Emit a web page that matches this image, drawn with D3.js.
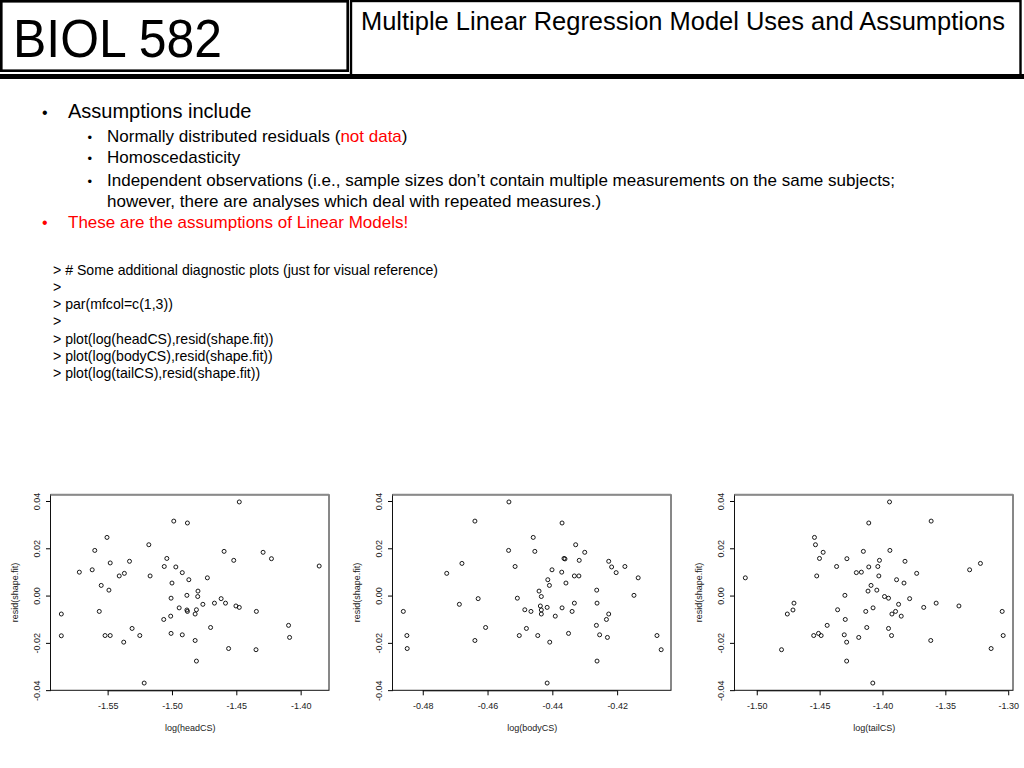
<!DOCTYPE html>
<html>
<head>
<meta charset="utf-8">
<script src="https://cdn.jsdelivr.net/npm/d3@7"></script>
<style>
  html, body { margin: 0; padding: 0; background: #fff; }
  svg { display: block; }
  text { font-family: "Liberation Sans", Arial, Helvetica, sans-serif; }
</style>
</head>
<body>
<svg id="slide" width="1024" height="768"></svg>
<script>
// ---- slide text ----
const courseTitle = "BIOL 582";
const slideTitle = "Multiple Linear Regression Model Uses and Assumptions";
const bulletLines = [
  { level: 0, color: "#000", parts: [["Assumptions include", "#000"]] },
  { level: 1, parts: [["Normally distributed residuals (", "#000"], ["not data", "#f00"], [")", "#000"]] },
  { level: 1, parts: [["Homoscedasticity", "#000"]] },
  { level: 1, parts: [["Independent observations (i.e., sample sizes don\u2019t contain multiple measurements on the same subjects;", "#000"]] },
  { level: 2, parts: [["however, there are analyses which deal with repeated measures.)", "#000"]] },
  { level: 0, color: "#f00", parts: [["These are the assumptions of Linear Models!", "#f00"]] }
];
const codeLines = [
  "> # Some additional diagnostic plots (just for visual reference)",
  ">",
  "> par(mfcol=c(1,3))",
  ">",
  "> plot(log(headCS),resid(shape.fit))",
  "> plot(log(bodyCS),resid(shape.fit))",
  "> plot(log(tailCS),resid(shape.fit))"
];

// ---- chart data ----
const yTicks = [-0.04, -0.02, 0, 0.02, 0.04];
const yLabel = "resid(shape.fit)";

const headLabel = "log(headCS)";
const headTicks = [-1.55, -1.50, -1.45, -1.40];
const headX = [-1.586,-1.586,-1.572,-1.562,-1.560,-1.5505,-1.5565,-1.555,-1.549,-1.548,-1.552,-1.548,-1.541,-1.537,-1.533,-1.5375,-1.531,-1.525,-1.518,-1.517,-1.5216,-1.5064,-1.506,-1.504,-1.4986,-1.497,-1.500,-1.5007,-1.501,-1.5007,-1.4944,-1.492,-1.492,-1.488,-1.4884,-1.4884,-1.488,-1.4869,-1.482,-1.482,-1.481,-1.481,-1.4798,-1.480,-1.476,-1.4725,-1.470,-1.467,-1.4618,-1.4595,-1.4584,-1.456,-1.452,-1.4503,-1.4477,-1.4477,-1.4344,-1.4347,-1.4292,-1.4227,-1.4094,-1.4086,-1.3856];
const headResid = [-0.0078,-0.0170,0.0099,0.0109,0.0191,0.0246,-0.0067,0.0043,0.0023,0.0138,-0.0169,-0.0169,0.0083,0.0094,0.0145,-0.0197,-0.0139,-0.0169,0.0215,0.0083,-0.0370,-0.0101,0.0123,0.0157,0.0315,0.0121,0.0053,-0.0011,-0.0087,-0.0160,-0.0052,0.0097,-0.0166,0.0307,0.0001,-0.0061,-0.0067,0.0067,-0.0078,-0.0190,-0.0060,-0.0277,0.0019,-0.0004,-0.0037,0.0075,-0.0135,-0.0032,-0.0013,0.0187,-0.0032,-0.0224,0.0149,-0.0044,-0.0050,0.0396,-0.0067,-0.0229,0.0183,0.0156,-0.0126,-0.0177,0.0125];

const bodyLabel = "log(bodyCS)";
const bodyTicks = [-0.48, -0.46, -0.44, -0.42];
const bodyX = [-0.4860,-0.4849,-0.4848,-0.4726,-0.4687,-0.4679,-0.4639,-0.4639,-0.4629,-0.4606,-0.4534,-0.4535,-0.4515,-0.4508,-0.4502,-0.4485,-0.4480,-0.4466,-0.4459,-0.4454,-0.4445,-0.4441,-0.4437,-0.4434,-0.4434,-0.4434,-0.4416,-0.4414,-0.4409,-0.4408,-0.4416,-0.4401,-0.4391,-0.4371,-0.4370,-0.4370,-0.4364,-0.4361,-0.4358,-0.4350,-0.4339,-0.4332,-0.4332,-0.4328,-0.4318,-0.4317,-0.4300,-0.4263,-0.4262,-0.4264,-0.4262,-0.4254,-0.4233,-0.4230,-0.4226,-0.4226,-0.4217,-0.4203,-0.4176,-0.4148,-0.4135,-0.4077,-0.4064];
const bodyResid = [-0.0067,-0.0169,-0.0224,0.0094,-0.0037,0.0136,0.0315,-0.0190,-0.0013,-0.0135,0.0396,0.0191,0.0123,-0.0011,-0.0169,-0.0060,-0.0139,-0.0067,0.0246,0.0187,-0.0169,0.0019,-0.0044,-0.0004,-0.0061,-0.0078,-0.0050,0.0067,0.0043,-0.0197,-0.0370,0.0109,-0.0087,0.0099,0.0307,-0.0052,0.0157,0.0155,0.0053,-0.0160,-0.0067,0.0083,-0.0032,0.0215,0.0083,0.0149,0.0183,0.0023,-0.0032,-0.0126,-0.0277,-0.0166,-0.0101,-0.0177,-0.0078,0.0145,0.0121,0.0097,0.0123,0.0001,0.0075,-0.0169,-0.0229];

const tailLabel = "log(tailCS)";
const tailTicks = [-1.50, -1.45, -1.40, -1.35, -1.30];
const tailX = [-1.5091,-1.4803,-1.4757,-1.4712,-1.4704,-1.4547,-1.4541,-1.4533,-1.4523,-1.4509,-1.4501,-1.4488,-1.4472,-1.4440,-1.4365,-1.4357,-1.4304,-1.4299,-1.4296,-1.4285,-1.4283,-1.4285,-1.4208,-1.4189,-1.4168,-1.4152,-1.4133,-1.4125,-1.4115,-1.4109,-1.4109,-1.4091,-1.4077,-1.4075,-1.4045,-1.4037,-1.4029,-1.4024,-1.3984,-1.3952,-1.3952,-1.3944,-1.3941,-1.3928,-1.3925,-1.3896,-1.3888,-1.3872,-1.3851,-1.3829,-1.3821,-1.3784,-1.3728,-1.3672,-1.3616,-1.3613,-1.3573,-1.3392,-1.3307,-1.3221,-1.3136,-1.3048,-1.3040];
const tailResid = [0.0075,-0.0229,-0.0078,-0.0061,-0.0032,-0.0169,0.0246,0.0215,0.0083,-0.0160,0.0157,-0.0169,0.0183,-0.0126,0.0123,-0.0060,-0.0166,0.0001,-0.0101,-0.0197,0.0156,-0.0277,0.0097,-0.0177,0.0099,0.0187,-0.0067,-0.0135,0.0019,0.0121,0.0307,0.0043,-0.0370,-0.0052,0.0023,0.0123,0.0083,0.0149,-0.0004,-0.0011,-0.0139,0.0396,0.0191,-0.0169,-0.0078,-0.0067,0.0067,-0.0037,-0.0087,0.0053,0.0145,-0.0013,0.0094,-0.0050,-0.0190,0.0315,-0.0032,-0.0044,0.0109,0.0136,-0.0224,-0.0067,-0.0169];

// ---- drawing ----
const svg = d3.select("#slide");
svg.append("rect").attr("width", 1024).attr("height", 768).attr("fill", "#fff");

// header boxes
svg.append("rect").attr("x", 1.3).attr("y", 1.3).attr("width", 346.4).attr("height", 69.4)
  .attr("fill", "#fff").attr("stroke", "#000").attr("stroke-width", 2.6);
svg.append("rect").attr("x", 351).attr("y", 1).attr("width", 669.5).attr("height", 75)
  .attr("fill", "#fff").attr("stroke", "#000").attr("stroke-width", 2.4);
svg.append("rect").attr("x", 0).attr("y", 74).attr("width", 1024).attr("height", 5).attr("fill", "#000");

svg.append("text").attr("x", 13).attr("y", 56.5).attr("font-size", 54)
  .attr("textLength", 209).attr("lengthAdjust", "spacingAndGlyphs")
  .attr("fill", "#000").text(courseTitle);
svg.append("text").attr("x", 361).attr("y", 29.5).attr("font-size", 25.4)
  .attr("textLength", 644).attr("lengthAdjust", "spacingAndGlyphs")
  .attr("fill", "#000").text(slideTitle);

// bullets
const bulletY = [118, 141.7, 163.3, 186, 206.7, 228];
bulletLines.forEach((b, i) => {
  const y = bulletY[i];
  if (b.level === 0) {
    svg.append("text").attr("x", 42).attr("y", y).attr("font-size", 16).attr("fill", b.color).text("\u2022");
  } else if (b.level === 1) {
    svg.append("text").attr("x", 87.5).attr("y", y).attr("font-size", 13).attr("fill", "#000").text("\u2022");
  }
  const tx = b.level === 0 ? 68 : 107;
  const fs = (b.level === 0 && i === 0) ? 20 : 17;
  const t = svg.append("text").attr("x", tx).attr("y", y).attr("font-size", fs);
  b.parts.forEach(p => t.append("tspan").attr("fill", p[1]).text(p[0]));
});

// code lines
codeLines.forEach((c, i) => {
  svg.append("text").attr("x", 53).attr("y", 274.8 + i * 17.2).attr("font-size", 14.1)
    .attr("fill", "#000").text(c);
});

// scatter panels (R-style: axis range extended by 4%)
function rRange(vals) {
  const [a, b] = d3.extent(vals);
  const pad = (b - a) * 0.04;
  return [a - pad, b + pad];
}
const allResid = headResid.concat(bodyResid, tailResid);
const yDom = rRange(allResid);
const boxTop = 494.7, boxBottom = 690.3, boxW = 278.5;
const yScale = d3.scaleLinear().domain(yDom).range([boxBottom, boxTop]);

const panels = [
  { left: 51, xs: headX, ys: headResid, ticks: headTicks, label: headLabel },
  { left: 393, xs: bodyX, ys: bodyResid, ticks: bodyTicks, label: bodyLabel },
  { left: 735, xs: tailX, ys: tailResid, ticks: tailTicks, label: tailLabel }
];

panels.forEach(p => {
  const g = svg.append("g");
  const x = d3.scaleLinear().domain(rRange(p.xs)).range([p.left, p.left + boxW]);
  const fmt = d3.format(".2f");

  // x axis
  const xa = g.append("g").attr("transform", `translate(0,${boxBottom})`)
    .call(d3.axisBottom(x).tickValues(p.ticks).tickSize(5).tickSizeOuter(0).tickFormat(d => fmt(d).replace("\u2212", "-")));
  xa.select(".domain").attr("d", `M${x(p.ticks[0])},0.5H${x(p.ticks[p.ticks.length - 1])}`).attr("stroke", "#000");
  xa.selectAll(".tick line").attr("stroke", "#000");
  xa.selectAll(".tick text").attr("font-size", 9).attr("fill", "#222").attr("y", 16)
    .attr("font-family", "'Liberation Sans', Arial, sans-serif").attr("dy", "0.32em");

  // y axis
  const ya = g.append("g").attr("transform", `translate(${p.left},0)`)
    .call(d3.axisLeft(yScale).tickValues(yTicks).tickSize(5).tickSizeOuter(0).tickFormat(d => fmt(d).replace("\u2212", "-")));
  ya.select(".domain").attr("d", `M-0.5,${yScale(yTicks[0])}V${yScale(yTicks[yTicks.length - 1])}`).attr("stroke", "#000");
  ya.selectAll(".tick line").attr("stroke", "#000");
  ya.selectAll(".tick text").attr("font-size", 9).attr("fill", "#222")
    .attr("font-family", "'Liberation Sans', Arial, sans-serif")
    .attr("x", null).attr("dy", null)
    .attr("text-anchor", "middle")
    .attr("transform", "translate(-11,0) rotate(-90)");

  // box
  g.append("rect").attr("x", p.left - 0.5).attr("y", boxTop).attr("width", boxW)
    .attr("height", boxBottom - boxTop).attr("fill", "none").attr("stroke", "#111").attr("stroke-width", 1);
  g.append("line").attr("x1", p.left - 0.5).attr("x2", p.left + boxW - 0.5)
    .attr("y1", boxTop).attr("y2", boxTop).attr("stroke", "#8a8a8a").attr("stroke-width", 2);

  // points
  const pts = p.xs.map((v, i) => ({ x: v, y: p.ys[i] }));
  g.append("g").selectAll("circle").data(pts).join("circle")
    .attr("cx", d => x(d.x)).attr("cy", d => yScale(d.y)).attr("r", 2)
    .attr("fill", "none").attr("stroke", "#000").attr("stroke-width", 0.9);

  // labels
  g.append("text").attr("x", p.left + boxW / 2).attr("y", 731).attr("text-anchor", "middle")
    .attr("font-size", 9).attr("fill", "#222").text(p.label);
  g.append("text").attr("transform", `translate(${p.left - 33},${(boxTop + boxBottom) / 2}) rotate(-90)`)
    .attr("text-anchor", "middle").attr("font-size", 9).attr("fill", "#222").text(yLabel);
});
</script>
</body>
</html>
